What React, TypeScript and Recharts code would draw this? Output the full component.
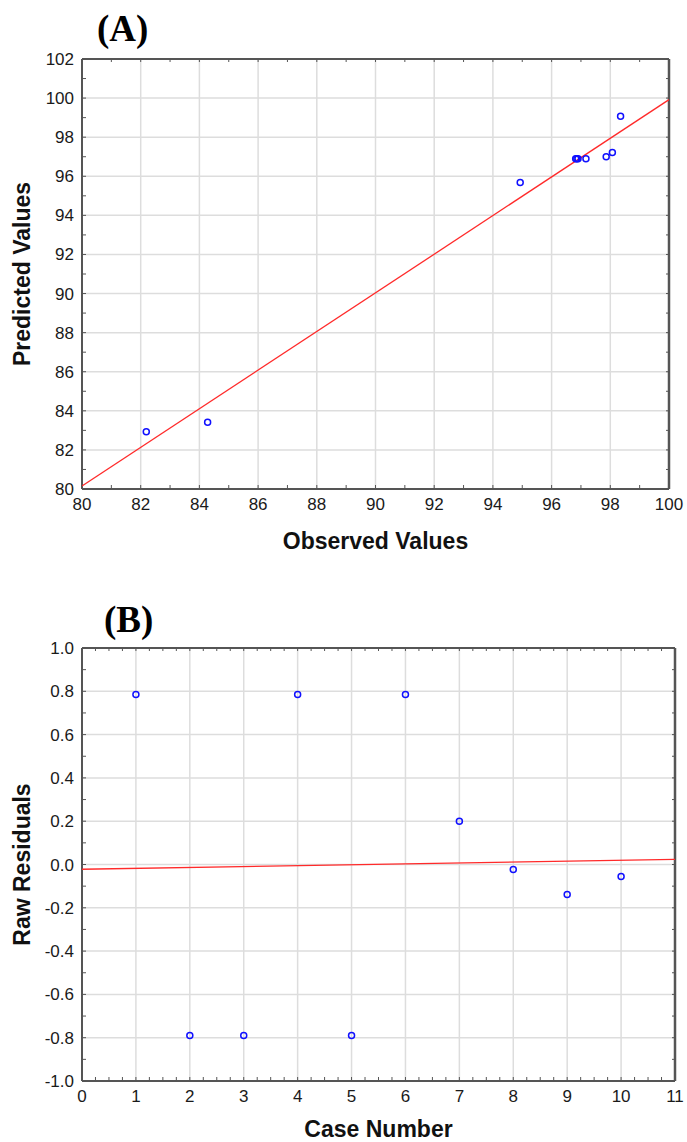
import {
  ScatterChart,
  Scatter,
  XAxis,
  YAxis,
  CartesianGrid,
} from 'recharts';

// (A) observed vs predicted
const observedA = [82.19, 84.28, 94.93, 96.82, 96.9, 97.17, 97.86, 98.07, 98.35, 96.86];
const predictedA = [82.93, 83.42, 95.68, 96.9, 96.9, 96.9, 97.0, 97.22, 99.07, 96.9];
const fitObservedA = [80, 100];
const fitPredictedA = [80.15, 99.92];
const xTicksA = [80, 82, 84, 86, 88, 90, 92, 94, 96, 98, 100];
const yTicksA = [80, 82, 84, 86, 88, 90, 92, 94, 96, 98, 100, 102];

// (B) raw residuals by case
const caseB = [1, 2, 3, 4, 5, 6, 7, 8, 9, 10];
const residualsB = [0.785, -0.79, -0.79, 0.785, -0.79, 0.785, 0.2, -0.023, -0.138, -0.055];
const fitCaseB = [0, 11];
const fitResidualB = [-0.022, 0.024];
const xTicksB = [0, 1, 2, 3, 4, 5, 6, 7, 8, 9, 10, 11];
const yTicksB = [-1, -0.8, -0.6, -0.4, -0.2, 0, 0.2, 0.4, 0.6, 0.8, 1];

const range = (from: number, to: number, step: number) => {
  const out: number[] = [];
  const n = Math.round((to - from) / step);
  for (let i = 0; i <= n; i++) out.push(Math.round((from + i * step) * 1000) / 1000);
  return out;
};

const isMajor = (v: number, majors: number[]) => majors.some((m) => Math.abs(m - v) < 1e-6);

const FONT = '"Liberation Sans", Arial, sans-serif';
const AXIS = '#555555';
const GRID = '#dddddd';
const TICK = { fill: '#1a1a1a', fontSize: 17, fontFamily: FONT };
const TITLE = { fill: '#111111', fontSize: 23, fontWeight: 700, fontFamily: FONT };

const Ring = (props: any) => {
  const { cx, cy } = props;
  if (cx == null || cy == null) return null;
  return <circle cx={cx} cy={cy} r={3} fill="none" stroke="#1010ff" strokeWidth={1.5} />;
};

const NoDot = () => null;
const NoTick = () => <g />;

interface PanelProps {
  label: string;
  points: { x: number; y: number }[];
  fit: { x: number; y: number }[];
  xDomain: [number, number];
  yDomain: [number, number];
  xMajor: number[];
  yMajor: number[];
  xMinor: number[];
  yMinor: number[];
  xFmt: (v: number) => string;
  yFmt: (v: number) => string;
  xTitle: string;
  yTitle: string;
  height: number;
  margin: { top: number; right: number; bottom: number; left: number };
  xAxisHeight: number;
  xTitleOffset: number;
  tagTop: number;
  tagLeft: number;
}

const Panel = (p: PanelProps) => (
  <div style={{ position: 'relative', width: 687, height: p.height }}>
    <div
      style={{
        position: 'absolute',
        left: p.tagLeft,
        top: p.tagTop,
        fontFamily: '"Liberation Serif", "Times New Roman", serif',
        fontWeight: 700,
        fontSize: 37,
        color: '#000',
        lineHeight: 1,
      }}
    >
      {p.label}
    </div>
    <ScatterChart width={687} height={p.height} margin={p.margin}>
      <CartesianGrid
        xAxisId="main"
        yAxisId="main"
        stroke={GRID}
        strokeWidth={1.5}
        verticalValues={p.xMajor}
        horizontalValues={p.yMajor}
      />
      <XAxis
        xAxisId="main"
        type="number"
        dataKey="x"
        domain={p.xDomain}
        ticks={p.xMinor}
        interval={0}
        allowDataOverflow
        height={p.xAxisHeight}
        tickSize={-4}
        tickMargin={13}
        tick={TICK}
        tickFormatter={(v: number) => (isMajor(v, p.xMajor) ? p.xFmt(v) : '')}
        axisLine={{ stroke: AXIS, strokeWidth: 2 }}
        tickLine={{ stroke: AXIS, strokeWidth: 1 }}
        label={{ value: p.xTitle, position: 'insideBottom', offset: p.xTitleOffset, style: TITLE }}
      />
      <XAxis
        xAxisId="top"
        orientation="top"
        type="number"
        dataKey="x"
        domain={p.xDomain}
        ticks={p.xMinor}
        interval={0}
        allowDataOverflow
        height={1}
        tickSize={-3}
        tick={NoTick}
        axisLine={{ stroke: AXIS, strokeWidth: 2 }}
        tickLine={{ stroke: AXIS, strokeWidth: 1 }}
      />
      <YAxis
        yAxisId="main"
        type="number"
        dataKey="y"
        domain={p.yDomain}
        ticks={p.yMinor}
        interval={0}
        allowDataOverflow
        width={82}
        tickSize={-4}
        tickMargin={12}
        tick={TICK}
        tickFormatter={(v: number) => (isMajor(v, p.yMajor) ? p.yFmt(v) : '')}
        axisLine={{ stroke: AXIS, strokeWidth: 2 }}
        tickLine={{ stroke: AXIS, strokeWidth: 1 }}
        label={{
          value: p.yTitle,
          angle: -90,
          position: 'insideLeft',
          offset: 22,
          style: { ...TITLE, textAnchor: 'middle' },
        }}
      />
      <YAxis
        yAxisId="right"
        orientation="right"
        type="number"
        dataKey="y"
        domain={p.yDomain}
        ticks={p.yMinor}
        interval={0}
        allowDataOverflow
        width={1}
        tickSize={-3}
        tick={NoTick}
        axisLine={{ stroke: AXIS, strokeWidth: 2.5 }}
        tickLine={{ stroke: AXIS, strokeWidth: 1 }}
      />
      <Scatter
        xAxisId="main"
        yAxisId="main"
        data={p.fit}
        line={{ stroke: '#ff2a2a', strokeWidth: 1.3 }}
        shape={NoDot}
        isAnimationActive={false}
      />
      <Scatter
        xAxisId="main"
        yAxisId="main"
        data={p.points}
        shape={Ring}
        isAnimationActive={false}
      />
    </ScatterChart>
  </div>
);

export default function App() {
  const pointsA = observedA.map((x, i) => ({ x, y: predictedA[i] }));
  const fitA = fitObservedA.map((x, i) => ({ x, y: fitPredictedA[i] }));
  const pointsB = caseB.map((x, i) => ({ x, y: residualsB[i] }));
  const fitB = fitCaseB.map((x, i) => ({ x, y: fitResidualB[i] }));

  return (
    <div style={{ position: 'absolute', left: 0, top: 0, width: 687, height: 1142, background: '#fff' }}>
      <Panel
        label="(A)"
        points={pointsA}
        fit={fitA}
        xDomain={[80, 100]}
        yDomain={[80, 102]}
        xMajor={xTicksA}
        yMajor={yTicksA}
        xMinor={range(80, 100, 1)}
        yMinor={range(80, 102, 1)}
        xFmt={(v) => String(v)}
        yFmt={(v) => String(v)}
        xTitle="Observed Values"
        yTitle="Predicted Values"
        height={572}
        margin={{ top: 58, right: 17, bottom: 0, left: 0 }}
        xAxisHeight={83}
        xTitleOffset={23}
        tagTop={10}
        tagLeft={97}
      />
      <Panel
        label="(B)"
        points={pointsB}
        fit={fitB}
        xDomain={[0, 11]}
        yDomain={[-1, 1]}
        xMajor={xTicksB}
        yMajor={yTicksB}
        xMinor={range(0, 11, 0.25)}
        yMinor={range(-1, 1, 0.1)}
        xFmt={(v) => String(v)}
        yFmt={(v) => v.toFixed(1)}
        xTitle="Case Number"
        yTitle="Raw Residuals"
        height={570}
        margin={{ top: 75, right: 11, bottom: 0, left: 0 }}
        xAxisHeight={61}
        xTitleOffset={5}
        tagTop={29}
        tagLeft={104}
      />
    </div>
  );
}
